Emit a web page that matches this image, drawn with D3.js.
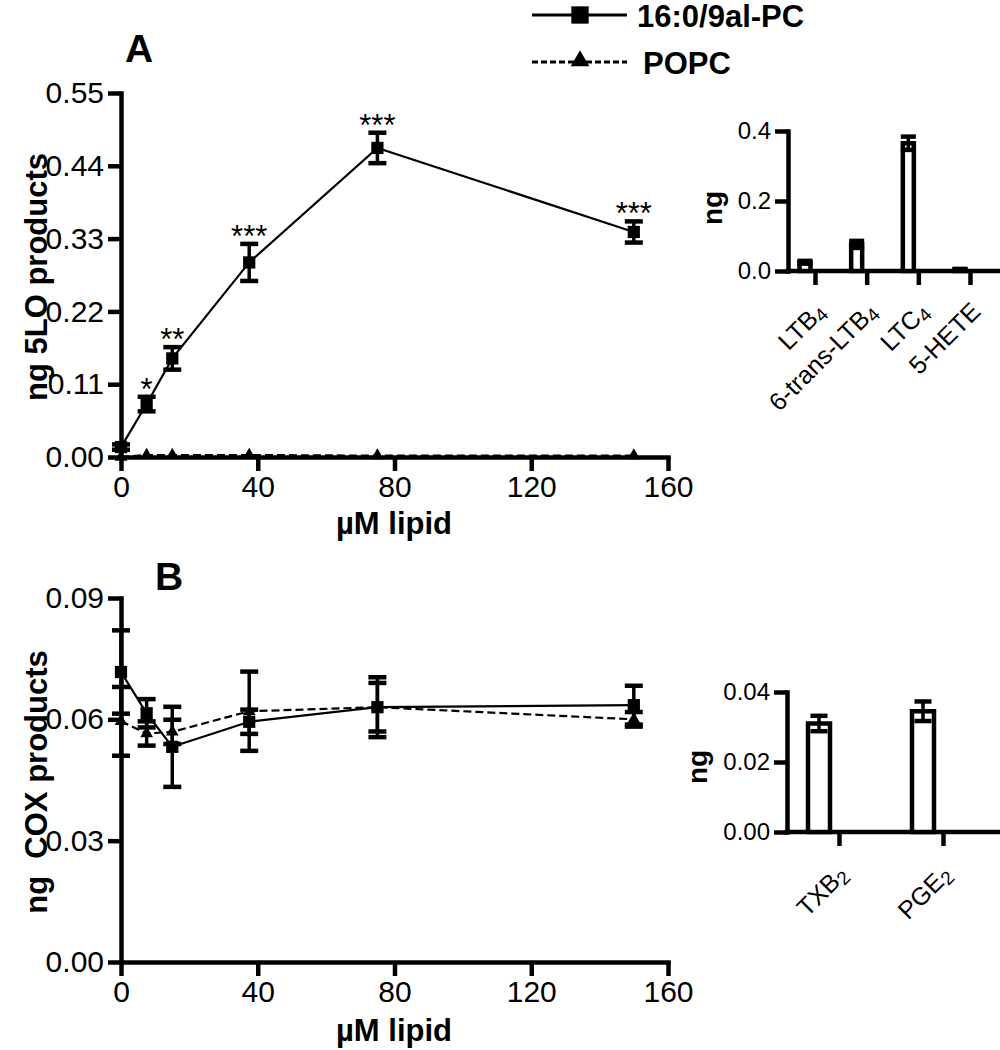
<!DOCTYPE html>
<html><head><meta charset="utf-8">
<script src="https://cdn.jsdelivr.net/npm/d3@7"></script>
<style>
body{margin:0;background:#fff}
svg{display:block;background:#fff}
</style></head><body>
<svg id="c" width="1000" height="1050"></svg>
<script>
// ---------------- DATA ----------------
const xTicks = [0, 40, 80, 120, 160];
const conc = [0, 7.5, 15, 37.5, 75, 150];

// Panel A: 5LO products
const yTicksA = [0, 0.11, 0.22, 0.33, 0.44, 0.55];
const a9al = [0.015, 0.080, 0.149, 0.294, 0.467, 0.340];
const a9alErr = [0.004, 0.011, 0.017, 0.028, 0.023, 0.016];
const aPopc = [0.000, 0.003, 0.003, 0.003, 0.002, 0.002];
const aPopcErr = [0, 0, 0, 0, 0, 0];
const aStars = ["", "*", "**", "***", "***", "***"];

// Panel B: COX products
const yTicksB = [0, 0.03, 0.06, 0.09];
const b9al = [0.0717, 0.0615, 0.0532, 0.0594, 0.0630, 0.0635];
const b9alErr = [0.0103, 0.0035, 0.0099, 0.0030, 0.0060, 0.0048];
const bPopc = [0.0595, 0.0565, 0.0569, 0.0620, 0.0630, 0.0600];
const bPopcErr = [0.0085, 0.0030, 0.0030, 0.0098, 0.0074, 0.0018];

// Inset A
const insetACats = ["LTB4", "6-trans-LTB4", "LTC4", "5-HETE"];
const insetALabels = [["LTB", "4"], ["6-trans-LTB", "4"], ["LTC", "4"], ["5-HETE", ""]];
const insetAVals = [0.025, 0.076, 0.365, 0.004];
const insetAErr = [0.004, 0.010, 0.019, 0.002];
const insetATicks = [0, 0.2, 0.4];

// Inset B
const insetBCats = ["TXB2", "PGE2"];
const insetBLabels = [["TXB", "2"], ["PGE", "2"]];
const insetBVals = [0.031, 0.0345];
const insetBErr = [0.0022, 0.0028];
const insetBTicks = [0, 0.02, 0.04];

const legendNames = ["16:0/9al-PC", "POPC"];

// ---------------- DRAW ----------------
const FONT = '"Liberation Sans", Arial, Helvetica, sans-serif';
const svg = d3.select("#c");
const AX_W = 4.5;

function styleAxis(g, fs) {
  g.attr("font-size", fs).attr("font-family", FONT);
  g.select(".domain").attr("stroke", "#000").attr("stroke-width", AX_W).attr("stroke-linecap", "square");
  g.selectAll(".tick line").attr("stroke", "#000").attr("stroke-width", AX_W);
  g.selectAll(".tick text").attr("fill", "#000");
}

const sq = d3.symbol().type(d3.symbolSquare).size(150);
const tri = d3.symbol().type(d3.symbolTriangle).size(70);

function linePanel(cfg) {
  const x = d3.scaleLinear().domain([0, 160]).range([121, 668]);
  const y = d3.scaleLinear().domain(cfg.yDomain).range(cfg.yRange);

  const gy = svg.append("g").attr("transform", `translate(${x(0)},0)`)
    .call(d3.axisLeft(y).tickValues(cfg.yTicks).tickFormat(d3.format(".2f"))
      .tickSize(13).tickSizeOuter(0).tickPadding(4));
  styleAxis(gy, 30);
  const gx = svg.append("g").attr("transform", `translate(0,${y(0)})`)
    .call(d3.axisBottom(x).tickValues(xTicks).tickFormat(d3.format("d"))
      .tickSize(14).tickSizeOuter(0).tickPadding(5));
  styleAxis(gx, 30);

  // titles
  svg.append("text").attr("x", 394).attr("y", cfg.xTitleY).attr("text-anchor", "middle")
    .attr("font-family", FONT).attr("font-weight", "bold").attr("font-size", 31).text("µM lipid");
  svg.append("text").attr("transform", `translate(${cfg.yTitleX},${cfg.yTitleY}) rotate(-90)`)
    .attr("text-anchor", "middle").attr("font-family", FONT).attr("font-weight", "bold")
    .attr("font-size", 31).attr("xml:space", "preserve").text(cfg.yTitle);
  svg.append("text").attr("x", cfg.letterX).attr("y", cfg.letterY).attr("text-anchor", "middle")
    .attr("font-family", FONT).attr("font-weight", "bold").attr("font-size", 39).text(cfg.letter);

  const series = cfg.series;
  const lineGen = d3.line().x(d => x(d.c)).y(d => y(d.v));
  series.forEach(s => {
    const data = conc.map((c, i) => ({c, v: s.vals[i], e: s.errs[i]}));
    svg.append("path").datum(data).attr("d", lineGen).attr("fill", "none")
      .attr("stroke", "#000").attr("stroke-width", 2.2)
      .attr("stroke-dasharray", s.dash ? "8,4" : null);
    s.data = data;
  });
  series.forEach(s => {
    const eb = svg.append("g");
    s.data.filter(d => d.e > 0).forEach(d => {
      eb.append("line").attr("x1", x(d.c)).attr("x2", x(d.c))
        .attr("y1", y(d.v - d.e)).attr("y2", y(d.v + d.e))
        .attr("stroke", "#000").attr("stroke-width", 3.5);
      [d.v - d.e, d.v + d.e].forEach(vv => {
        eb.append("line").attr("x1", x(d.c) - 9).attr("x2", x(d.c) + 9)
          .attr("y1", y(vv)).attr("y2", y(vv))
          .attr("stroke", "#000").attr("stroke-width", 4.5);
      });
    });
  });
  series.forEach(s => {
    svg.append("g").selectAll("path").data(s.data).join("path")
      .attr("transform", d => `translate(${x(d.c)},${y(d.v)})`)
      .attr("d", s.sym === "sq" ? sq() : tri()).attr("fill", "#000");
  });
  if (cfg.stars) {
    svg.append("g").selectAll("text").data(series[0].data).join("text")
      .attr("x", d => x(d.c)).attr("y", d => y(d.v + d.e) + 3)
      .attr("text-anchor", "middle").attr("font-family", FONT).attr("font-size", 31)
      .text((d, i) => cfg.stars[i]);
  }
}

linePanel({
  yDomain: [0, 0.55], yRange: [457, 93], yTicks: yTicksA,
  xTitleY: 534, yTitleX: 47, yTitleY: 277, yTitle: "ng 5LO products",
  letter: "A", letterX: 139, letterY: 62,
  series: [
    {vals: a9al, errs: a9alErr, dash: false, sym: "sq"},
    {vals: aPopc, errs: aPopcErr, dash: true, sym: "tri"}
  ],
  stars: aStars
});

linePanel({
  yDomain: [0, 0.09], yRange: [962, 598], yTicks: yTicksB,
  xTitleY: 1041, yTitleX: 47, yTitleY: 782, yTitle: "ng  COX products",
  letter: "B", letterX: 169, letterY: 590,
  series: [
    {vals: bPopc, errs: bPopcErr, dash: true, sym: "tri"},
    {vals: b9al, errs: b9alErr, dash: false, sym: "sq"}
  ]
});

// ---------- Insets ----------
function inset(cfg) {
  const x = d3.scalePoint().domain(cfg.cats).range(cfg.xRange);
  const y = d3.scaleLinear().domain(cfg.yDomain).range(cfg.yRange);
  const gy = svg.append("g").attr("transform", `translate(${cfg.axisX},0)`)
    .call(d3.axisLeft(y).tickValues(cfg.yTicks).tickFormat(d3.format(cfg.fmt))
      .tickSize(13).tickSizeOuter(0).tickPadding(4));
  styleAxis(gy, 24);
  const gx = svg.append("g").attr("transform", `translate(0,${y(0)})`)
    .call(d3.axisBottom(x).tickSize(14).tickSizeOuter(0).tickFormat(""));
  styleAxis(gx, 24);
  gx.select(".domain").attr("d", `M${cfg.axisX},0H1000`);

  cfg.cats.forEach((c, i) => {
    const cx = x(c) + cfg.barOffset;
    const v = cfg.vals[i], e = cfg.errs[i];
    svg.append("rect").attr("x", cx - cfg.barW / 2).attr("width", cfg.barW)
      .attr("y", y(v)).attr("height", y(0) - y(v))
      .attr("fill", "#fff").attr("stroke", "#000").attr("stroke-width", 4.5);
    svg.append("line").attr("x1", cx).attr("x2", cx).attr("y1", y(v - e)).attr("y2", y(v + e))
      .attr("stroke", "#000").attr("stroke-width", 3.5);
    [v - e, v + e].forEach(vv => {
      svg.append("line").attr("x1", cx - cfg.capW / 2).attr("x2", cx + cfg.capW / 2)
        .attr("y1", y(vv)).attr("y2", y(vv)).attr("stroke", "#000").attr("stroke-width", 4.5);
    });
    const t = svg.append("text")
      .attr("transform", `translate(${x(c) + cfg.labDx},${y(0) + cfg.labDy}) rotate(-45)`)
      .attr("text-anchor", "end").attr("font-family", FONT).attr("font-size", 25);
    t.append("tspan").text(cfg.labels[i][0]);
    if (cfg.labels[i][1]) t.append("tspan").attr("font-size", 19).attr("dy", 4).text(cfg.labels[i][1]);
  });
  svg.append("text").attr("transform", `translate(${cfg.titleX},${cfg.titleY}) rotate(-90)`)
    .attr("text-anchor", "middle").attr("font-family", FONT).attr("font-weight", "bold")
    .attr("font-size", 28).text("ng");
}

inset({
  cats: insetACats, labels: insetALabels, vals: insetAVals, errs: insetAErr,
  xRange: [815, 970], yDomain: [0, 0.4], yRange: [271, 131], yTicks: insetATicks, fmt: ".1f",
  axisX: 788, barOffset: -10, barW: 11, capW: 15, labDx: 12, labDy: 42,
  titleX: 722, titleY: 208
});

inset({
  cats: insetBCats, labels: insetBLabels, vals: insetBVals, errs: insetBErr,
  xRange: [839, 943], yDomain: [0, 0.04], yRange: [832, 692], yTicks: insetBTicks, fmt: ".2f",
  axisX: 787, barOffset: -20, barW: 22, capW: 17, labDx: 10, labDy: 44,
  titleX: 707, titleY: 767
});

// ---------- Legend ----------
const lg = svg.append("g");
[0, 1].forEach(i => {
  const ly = i === 0 ? 15 : 62;
  lg.append("line").attr("x1", 532).attr("x2", 627).attr("y1", ly).attr("y2", ly)
    .attr("stroke", "#000").attr("stroke-width", 3)
    .attr("stroke-dasharray", i === 0 ? null : "6,3");
  lg.append("path").attr("transform", `translate(580,${ly + (i === 0 ? 0 : -1)})`)
    .attr("d", i === 0 ? d3.symbol().type(d3.symbolSquare).size(300)() : d3.symbol().type(d3.symbolTriangle).size(150)())
    .attr("fill", "#000");
  lg.append("text").attr("x", i === 0 ? 637 : 643).attr("y", ly + 12)
    .attr("font-family", FONT).attr("font-weight", "bold").attr("font-size", 31)
    .text(legendNames[i]);
});
</script></body></html>
